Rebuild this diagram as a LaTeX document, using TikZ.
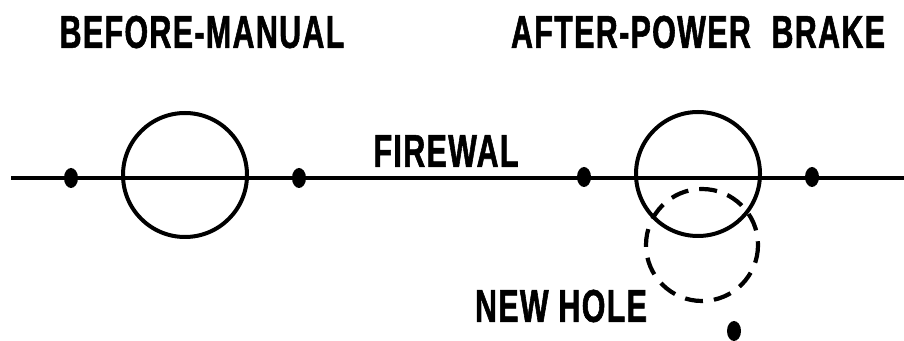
\documentclass[tikz,border=0pt]{standalone}
\usepackage{fontspec}
\setmainfont{Liberation Sans}
\newfontfamily\platefont{Liberation Sans}[FakeStretch=0.66,FakeBold=1.2,LetterSpace=3]
\usetikzlibrary{shapes.geometric}

\begin{document}
\begin{tikzpicture}[
  x=0.5pt,y=-0.5pt,
  caption/.style={inner sep=0pt, font=\platefont\bfseries\fontsize{23pt}{23pt}\selectfont},
  wall/.style={line width=1.75pt},
  hole/.style={line width=2pt},
  newhole/.style={line width=2.1pt, dash pattern=on 9pt off 5.5pt},
  rivet/.style={draw=none, fill, ellipse, inner sep=0pt, minimum width=7pt, minimum height=10pt}
]
\useasboundingbox (0,0) rectangle (904,341);
\node[caption] (before) at (202,32) {BEFORE-MANUAL};
\node[caption] (after) at (698,32) {AFTER-POWER\hspace{0.45em}BRAKE};
\node[caption] (firewall) at (446,151) {FIREWAL};
\node[caption] (newlabel) at (561,306) {NEW HOLE};
% firewall line
\coordinate (wallL) at (11,178);
\coordinate (wallR) at (904,178);
\draw[wall] (wallL) -- (wallR);
% holes
\coordinate (oldC) at (185,175);
\coordinate (powC) at (698,174);
\coordinate (newC) at (702,245);
\draw[hole] (oldC) circle[radius=62];
\draw[hole] (powC) circle[radius=62];
\draw[newhole] (newC) circle[radius=56];
% mounting studs
\node[rivet] (s1) at (71,178) {};
\node[rivet] (s2) at (299,178) {};
\node[rivet] (s3) at (584,177) {};
\node[rivet] (s4) at (812,177) {};
\node[rivet] (s5) at (734,331) {};
\end{tikzpicture}
\end{document}
